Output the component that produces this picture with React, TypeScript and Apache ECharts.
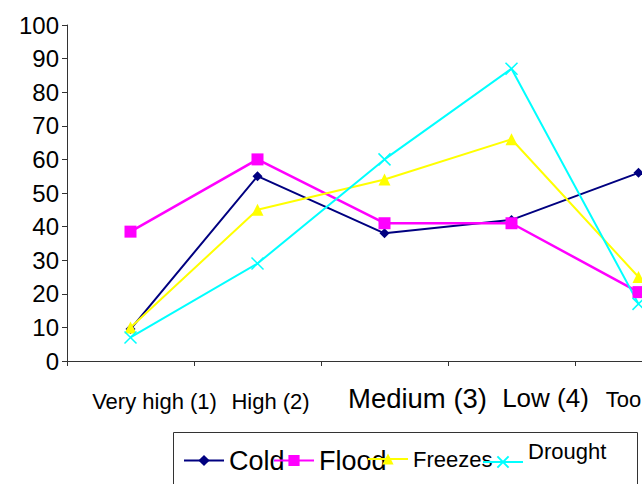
import React, { useEffect, useRef } from "react";
import * as echarts from "echarts";

const categories = ["Very high (1)", "High (2)", "Medium (3)", "Low (4)", "Too low (5)"];
const seriesNames = ["Cold", "Flood", "Freezes", "Drought"];
const cold = [9.5, 55, 38, 42, 56];
const flood = [38.5, 60, 41, 41, 20.5];
const freezes = [10, 45, 54, 66, 25];
const drought = [7, 29, 60, 87, 17];

// presentation-only styling for the category labels
const labelStyles = [
  { fontSize: 22, padding: [7, 0, 0, 48] },
  { fontSize: 22, padding: [7, 0, 0, 26] },
  { fontSize: 27.5, padding: [1, 0, 0, 66] },
  { fontSize: 26, padding: [2, 0, 0, 68] },
  { fontSize: 22, padding: [5, 0, 0, 42] },
];

const FONT = "'Liberation Sans', Arial, sans-serif";
const X_SYMBOL = "path://M0,0L10,10M10,0L0,10";

export default function App() {
  const ref = useRef<HTMLDivElement>(null);
  useEffect(() => {
    if (!ref.current) return;
    const chart = echarts.init(ref.current, undefined, { renderer: "svg" });
    const colors = ["#000080", "#FF00FF", "#FFFF00", "#00FFFF"];
    const symbols = ["diamond", "rect", "triangle", X_SYMBOL];
    const sizes = [10, 12, 12, 12];
    const values = [cold, flood, freezes, drought];
    const widths = [2, 2.5, 2, 2];

    const legendLefts = [183, 273, 367, 482];
    const legendTops = [447, 447, 448, 440];
    const legendFont = [27, 27, 22, 22];

    chart.setOption({
      animation: false,
      textStyle: { fontFamily: FONT },
      grid: {
        left: 67,
        top: 25,
        width: 635,
        height: 336,
        containLabel: false,
        outerBoundsMode: "none",
      },
      xAxis: {
        type: "category",
        data: categories.map((c, i) => ({
          value: c,
          textStyle: {
            fontSize: labelStyles[i].fontSize,
            padding: labelStyles[i].padding,
            fontFamily: FONT,
            color: "#000",
          },
        })),
        boundaryGap: true,
        axisLine: { lineStyle: { color: "#333", width: 1 } },
        axisTick: { show: true, length: 5, lineStyle: { color: "#333" } },
        axisLabel: { interval: 0, margin: 22, color: "#000", fontFamily: FONT },
        splitLine: { show: false },
      },
      yAxis: {
        type: "value",
        min: 0,
        max: 100,
        interval: 10,
        axisLine: { show: true, lineStyle: { color: "#333", width: 1 } },
        axisTick: { show: true, length: 5, lineStyle: { color: "#333" } },
        axisLabel: { fontSize: 24, color: "#000", margin: 8, fontFamily: FONT },
        splitLine: { show: false },
      },
      legend: seriesNames.map((n, i) => ({
        data: [n],
        left: legendLefts[i],
        top: legendTops[i],
        padding: 0,
        itemWidth: 40,
        itemHeight: 14,
        itemGap: 0,
        formatter: i === 3 ? "{d|{name}}" : "{name}",
        textStyle: {
          fontSize: legendFont[i],
          color: "#000",
          fontFamily: FONT,
          rich: { d: { fontSize: 22, fontFamily: FONT, color: "#000", padding: [0, 0, 22, 0] } },
        },
      })),
      graphic: [
        {
          type: "rect",
          z: -10,
          shape: { x: 173.5, y: 432.5, width: 464, height: 80 },
          style: { fill: "#fff", stroke: "#333", lineWidth: 1 },
        },
      ],
      series: seriesNames.map((n, i) => ({
        name: n,
        type: "line",
        data: values[i],
        symbol: symbols[i],
        symbolSize: sizes[i],
        showAllSymbol: true,
        lineStyle: { color: colors[i], width: widths[i] },
        itemStyle: {
          color: colors[i],
          borderColor: colors[i],
          borderWidth: i === 3 ? 1.5 : 0,
        },
        emphasis: { disabled: true },
        clip: false,
      })),
    });
    return () => chart.dispose();
  }, []);
  return (
    <div
      ref={ref}
      style={{ position: "fixed", left: 0, top: 0, width: 642, height: 484, background: "#fff" }}
    />
  );
}
